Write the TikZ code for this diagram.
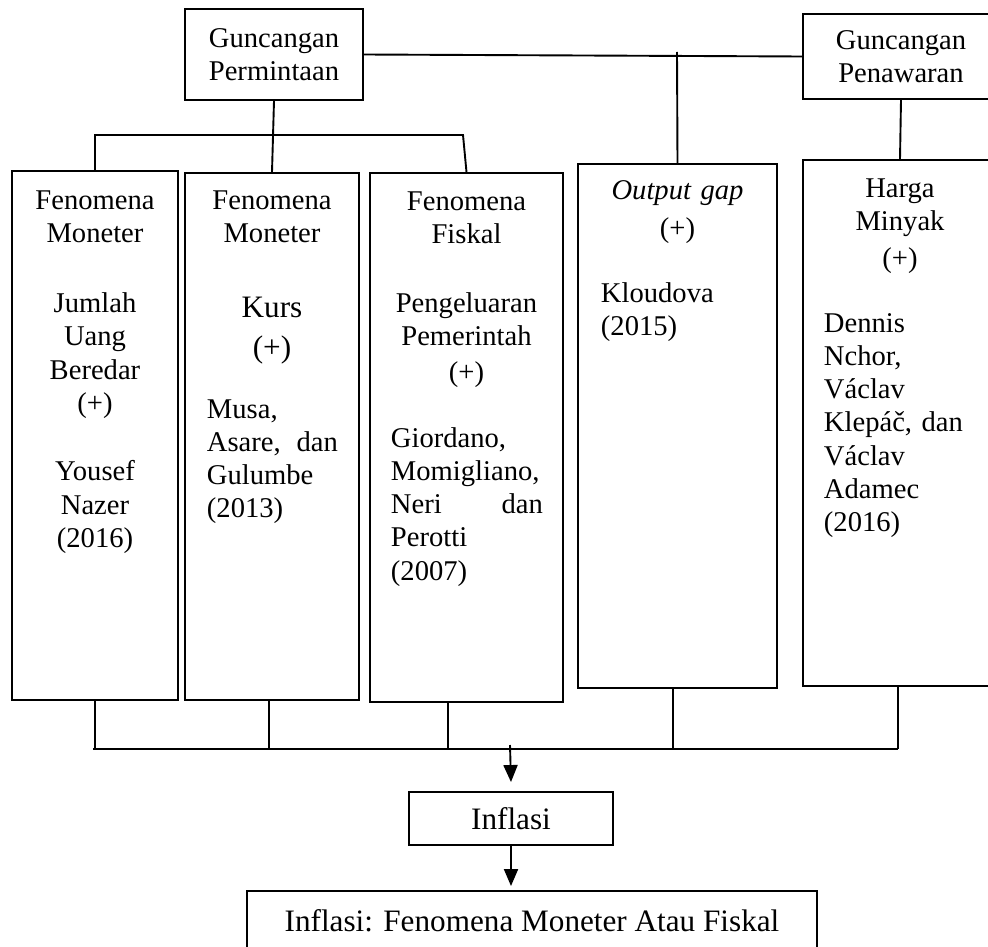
\documentclass[tikz,border=0pt]{standalone}
\usepackage{fontspec}
\setmainfont{Liberation Serif}
\usetikzlibrary{arrows.meta}
\newcommand{\colfont}{\fontsize{28.6pt}{33.3pt}\selectfont}
\newcommand{\bigfont}{\fontsize{31.2pt}{36pt}\selectfont}

\begin{document}
\begin{tikzpicture}[x=1pt,y=-1pt,line width=1.9pt,>={Triangle[length=17pt,width=14pt]},
  box/.style={draw,inner sep=0pt},
  head/.style={anchor=base,inner sep=0pt,align=center,font=\colfont},
  ref/.style={anchor=base west,inner sep=0pt,align=left,font=\colfont}]
\fill[white](0,0)rectangle(988,947);
\useasboundingbox(0,0)rectangle(988,947);
\node[box,minimum width=178,minimum height=91,align=center,font=\colfont](pm)at(274,54.5){Guncangan\\Permintaan};
\node[box,minimum width=196,minimum height=85,align=center,font=\colfont](pw)at(901,56.5){Guncangan\\Penawaran};
\node[box,minimum width=166,minimum height=529](b1)at(95,435.5){};
\node[box,minimum width=174,minimum height=527](b2)at(272,436.5){};
\node[box,minimum width=193,minimum height=529](b3)at(466.5,437.5){};
\node[box,minimum width=199,minimum height=524](b4)at(677.5,426){};
\node[box,minimum width=194,minimum height=526](b5)at(900,423){};
\node[head,text width=150](h1)at(95,209){Fenomena\\Moneter\\[37pt]Jumlah\\Uang\\Beredar\\(+)\\[35pt]Yousef\\Nazer\\(2016)};
\node[head,text width=150](h2)at(272,209){Fenomena\\Moneter\\[42pt]{\bigfont Kurs}\\[7pt]{\bigfont (+)}};
\node[ref,text width=131](r2)at(206,418){Musa,\\Asare,\hfill dan\\Gulumbe\\(2013)};
\node[head,text width=170](h3)at(466.5,210){Fenomena\\Fiskal\\[36pt]Pengeluaran\\Pemerintah\\[2pt](+)};
\node[ref,text width=152](r3)at(390,447){Giordano,\\Momigliano,\\Neri\hfill dan\\Perotti\\(2007)};
\node[head,text width=180](h4)at(677.5,200){\textit{Output gap}\\[4pt](+)};
\node[ref,text width=155](r4)at(600,302){Kloudova\\(2015)};
\node[head,text width=170](h5)at(900,197){Harga\\Minyak\\[4pt](+)};
\node[ref,text width=154](r5)at(823,332){Dennis\\Nchor,\\Václav\\Klepáč, dan\\Václav\\Adamec\\(2016)};
\node[box,minimum width=204,minimum height=53,font=\bigfont](inf)at(511,818.5){Inflasi};
\node[box,minimum width=570,minimum height=60,font=\bigfont](res)at(532,921){Inflasi: Fenomena Moneter Atau Fiskal};
\coordinate(tbus)at(463,135);
\coordinate(tap)at(677,52);
\coordinate(bbus)at(93,749);
\coordinate(bend)at(898,749);
\coordinate(down)at(510,745);
\draw(pm.east)--(pw.west);
\draw(tap)--(b4.north);
\draw(pm.south)--(b2.north);
\draw(b1.north)|-(tbus)--(b3.north);
\draw(pw.south)--(b5.north);
\draw(bbus)--(bend);
\draw(b1.south)--(b1.south|-bbus);
\draw([xshift=-3]b2.south)--([xshift=-3]b2.south|-bbus);
\draw([xshift=-18.5]b3.south)--([xshift=-18.5]b3.south|-bbus);
\draw([xshift=-4.5]b4.south)--([xshift=-4.5]b4.south|-bbus);
\draw(bend)--(bend|-b5.south);
\draw[->](down)--([yshift=9pt]inf.north);
\draw[->](inf.south)--([yshift=4pt]res.north-|inf.south);
\end{tikzpicture}
\end{document}
